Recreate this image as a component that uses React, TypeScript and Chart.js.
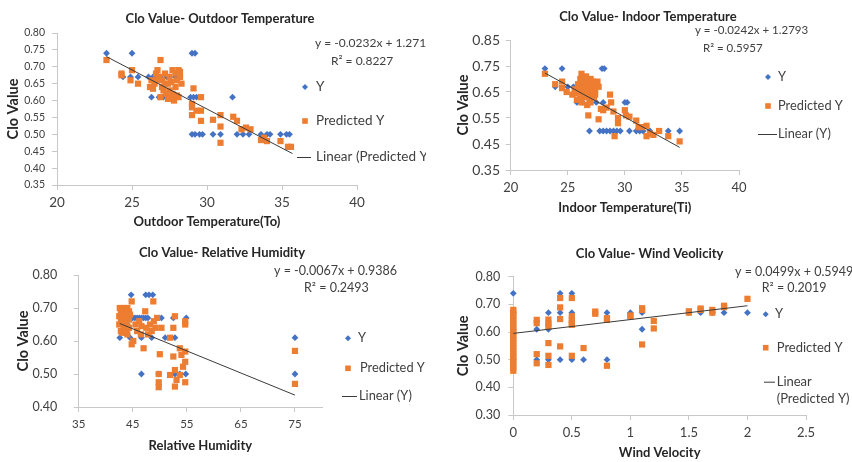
import React, { useEffect, useRef } from "react";
import { Chart, registerables } from "chart.js";
Chart.register(...registerables);

const FONT = "Lato, 'Open Sans', 'Noto Sans', sans-serif";
const BLUE = "#4472C4";
const ORANGE = "#ED7D31";
const AXIS = "#C8C8C8";
const TEXT = "#404040";
const TITLE = "#262626";
const TREND = "#3A3A3A";

type Pt = [number, number];

// ---------------- Panel 1: Outdoor temperature ----------------
const outdoorXTicks = [20, 25, 30, 35, 40];
const outdoorYTicks = [0.35, 0.4, 0.45, 0.5, 0.55, 0.6, 0.65, 0.7, 0.75, 0.8];
const outdoorClo: Pt[] = [
  [23.3, 0.74], [25.0, 0.74], [29.0, 0.74], [29.2, 0.74],
  [24.4, 0.67], [24.9, 0.67], [25.4, 0.67], [26.1, 0.67], [26.4, 0.67], [26.9, 0.67], [27.3, 0.67], [27.5, 0.67], [27.9, 0.67], [28.2, 0.67],
  [26.3, 0.61], [26.8, 0.61], [27.1, 0.61], [27.4, 0.61], [27.6, 0.61], [27.9, 0.61], [28.9, 0.61], [29.1, 0.61], [29.3, 0.61], [31.7, 0.61],
  [29.0, 0.5], [29.2, 0.5], [29.5, 0.5], [29.7, 0.5], [30.4, 0.5], [30.9, 0.5], [32.0, 0.5], [32.4, 0.5], [32.8, 0.5], [33.6, 0.5], [34.0, 0.5], [34.2, 0.5], [34.9, 0.5], [35.3, 0.5], [35.5, 0.5],
];
const outdoorPred: Pt[] = [
  [23.3, 0.72], [24.3, 0.68], [24.3, 0.675], [24.9, 0.66], [25.0, 0.69], [25.4, 0.65],
  [26.2, 0.64], [26.3, 0.66], [26.5, 0.65], [26.6, 0.68], [26.7, 0.69], [26.8, 0.67], [26.9, 0.72], [27.0, 0.64], [27.0, 0.66],
  [27.1, 0.63], [27.2, 0.68], [27.3, 0.62], [27.4, 0.65], [27.5, 0.63], [27.6, 0.61], [27.7, 0.69], [27.7, 0.62], [27.8, 0.6],
  [27.9, 0.68], [28.0, 0.66], [28.0, 0.615], [28.1, 0.69], [28.2, 0.67], [28.3, 0.65], [27.5, 0.67], [26.4, 0.635], [28.1, 0.61],
  [26.6, 0.66], [27.2, 0.65], [27.6, 0.655], [27.9, 0.64], [28.2, 0.685], [26.9, 0.61], [27.4, 0.605],
  [29.0, 0.557], [29.0, 0.58], [29.0, 0.59], [29.1, 0.636], [29.3, 0.57], [29.6, 0.61], [29.6, 0.57], [29.6, 0.54],
  [30.4, 0.543], [30.9, 0.557], [30.9, 0.523], [30.9, 0.475], [31.75, 0.552], [32.0, 0.54],
  [32.3, 0.515], [32.6, 0.52], [32.9, 0.515], [33.6, 0.483], [33.8, 0.49], [34.0, 0.48], [34.9, 0.48], [35.4, 0.463], [35.6, 0.463],
];
const outdoorTrendX = [23.3, 35.7];
const outdoorTrendY = [0.73, 0.443];

// ---------------- Panel 2: Indoor temperature ----------------
const indoorXTicks = [20, 25, 30, 35, 40];
const indoorYTicks = [0.35, 0.45, 0.55, 0.65, 0.75, 0.85];
const indoorClo: Pt[] = [
  [23.0, 0.74], [24.5, 0.74], [28.0, 0.74], [28.2, 0.74],
  [23.9, 0.67], [25.0, 0.67], [25.5, 0.67], [26.2, 0.67], [26.8, 0.67], [27.3, 0.67],
  [25.8, 0.61], [26.3, 0.61], [27.0, 0.61], [27.5, 0.61], [28.1, 0.61], [30.0, 0.61], [30.2, 0.61],
  [26.9, 0.5], [27.8, 0.5], [28.1, 0.5], [28.4, 0.5], [28.7, 0.5], [29.0, 0.5], [29.3, 0.5], [29.6, 0.5],
  [30.4, 0.5], [31.0, 0.5], [31.3, 0.5], [31.6, 0.5], [32.2, 0.5], [33.8, 0.5], [34.8, 0.5],
];
const indoorPred: Pt[] = [
  [23.0, 0.72], [23.9, 0.68], [24.5, 0.69], [24.5, 0.665], [24.9, 0.65],
  [25.4, 0.64], [25.6, 0.66], [25.8, 0.62], [25.9, 0.68], [26.0, 0.65], [26.1, 0.7], [26.2, 0.72], [26.2, 0.61], [26.3, 0.63],
  [26.4, 0.67], [26.5, 0.69], [26.6, 0.64], [26.7, 0.6], [26.7, 0.66], [26.8, 0.68], [26.9, 0.62], [27.0, 0.7], [27.0, 0.65],
  [27.1, 0.67], [27.2, 0.69], [27.3, 0.63], [27.4, 0.66], [27.5, 0.68], [27.0, 0.61], [26.5, 0.655],
  [25.7, 0.645], [26.0, 0.67], [26.3, 0.69], [26.6, 0.71], [26.9, 0.7], [27.2, 0.655], [27.4, 0.64], [26.1, 0.625], [26.8, 0.63], [27.6, 0.69], [27.7, 0.67],
  [26.8, 0.56], [27.7, 0.545], [27.9, 0.585], [28.1, 0.58], [28.4, 0.59], [28.7, 0.64], [28.8, 0.61], [29.0, 0.575],
  [29.1, 0.48], [29.4, 0.55], [29.4, 0.53], [30.0, 0.58], [30.1, 0.56], [30.4, 0.555], [31.0, 0.54], [31.2, 0.515],
  [31.5, 0.515], [31.9, 0.52], [31.9, 0.48], [32.2, 0.49], [32.5, 0.485], [33.0, 0.5], [33.8, 0.48], [34.8, 0.46],
];
const indoorTrendX = [23.0, 34.8];
const indoorTrendY = [0.723, 0.437];

// ---------------- Panel 3: Relative humidity ----------------
const rhXTicks = [35, 45, 55, 65, 75];
const rhYTicks = [0.4, 0.5, 0.6, 0.7, 0.8];
const rhClo: Pt[] = [
  [44.7, 0.74], [47.4, 0.74], [48.0, 0.74], [48.7, 0.74],
  [44.5, 0.67], [45.0, 0.67], [45.4, 0.67], [45.8, 0.67], [46.2, 0.67], [46.6, 0.67], [47.0, 0.67], [47.4, 0.67], [47.8, 0.67],
  [50.3, 0.67], [52.5, 0.67], [54.9, 0.67],
  [42.6, 0.61], [44.5, 0.61], [46.6, 0.61], [48.5, 0.61], [51.0, 0.61], [52.8, 0.61], [75, 0.61],
  [46.6, 0.5], [49.8, 0.5], [52.8, 0.5], [53.7, 0.5], [54.8, 0.5], [75, 0.5],
];
const rhPred: Pt[] = [
  [42.8, 0.69], [42.8, 0.66], [42.8, 0.63], [43.3, 0.7], [43.3, 0.67], [43.3, 0.645], [43.8, 0.68], [43.8, 0.655], [43.8, 0.625],
  [44.3, 0.69], [44.3, 0.665], [44.3, 0.64],
  [42.5, 0.675], [42.5, 0.65], [43.0, 0.685], [43.0, 0.655], [43.0, 0.625], [43.5, 0.69], [43.5, 0.66], [43.5, 0.635],
  [44.0, 0.7], [44.0, 0.67], [44.0, 0.645], [44.0, 0.62], [42.6, 0.7], [44.5, 0.68],
  [44.8, 0.72], [44.8, 0.59], [45.1, 0.6], [45.5, 0.65], [45.8, 0.63], [46.2, 0.66], [46.5, 0.62], [46.6, 0.645], [47.0, 0.578],
  [47.3, 0.69], [47.5, 0.64], [47.8, 0.62], [48.2, 0.65], [48.5, 0.63], [48.8, 0.72], [48.9, 0.66], [49.2, 0.64], [49.5, 0.67],
  [50.0, 0.56], [49.8, 0.5], [49.8, 0.475], [49.8, 0.46], [50.3, 0.64], [51.9, 0.61], [52.5, 0.64], [52.8, 0.675], [54.7, 0.66], [54.7, 0.65],
  [52.5, 0.553], [53.7, 0.578], [54.0, 0.558], [54.7, 0.568], [51.9, 0.497], [52.8, 0.512], [52.8, 0.462], [53.1, 0.482],
  [53.7, 0.497], [54.3, 0.522], [54.7, 0.537], [54.7, 0.475],
  [75, 0.57], [75, 0.47],
];
const rhTrendX = [42.6, 75];
const rhTrendY = [0.653, 0.436];

// ---------------- Panel 4: Wind velocity ----------------
const windXTicks = [0, 0.5, 1, 1.5, 2, 2.5];
const windYTicks = [0.3, 0.4, 0.5, 0.6, 0.7, 0.8];
const windClo: Pt[] = [
  [0, 0.74], [0, 0.67], [0, 0.61], [0, 0.5],
  [0.2, 0.61], [0.2, 0.5], [0.3, 0.67], [0.3, 0.61], [0.3, 0.5], [0.4, 0.74], [0.4, 0.67], [0.4, 0.5],
  [0.5, 0.74], [0.5, 0.67], [0.5, 0.5], [0.6, 0.5], [0.8, 0.67], [0.8, 0.5], [1.0, 0.67], [1.1, 0.67], [1.1, 0.61],
  [1.5, 0.67], [1.6, 0.67], [1.7, 0.67], [1.8, 0.67], [2.0, 0.67],
];
const windPred: Pt[] = [
  [0, 0.46], [0, 0.47], [0, 0.48], [0, 0.49], [0, 0.5], [0, 0.51], [0, 0.52], [0, 0.53], [0, 0.54], [0, 0.55], [0, 0.56], [0, 0.57],
  [0, 0.58], [0, 0.59], [0, 0.6], [0, 0.61], [0, 0.62], [0, 0.63], [0, 0.64], [0, 0.65], [0, 0.66], [0, 0.67], [0, 0.68],
  [0.2, 0.644], [0.2, 0.632], [0.2, 0.52], [0.2, 0.487],
  [0.3, 0.645], [0.3, 0.63], [0.3, 0.62], [0.3, 0.56], [0.3, 0.514], [0.3, 0.481],
  [0.4, 0.723], [0.4, 0.689], [0.4, 0.647], [0.4, 0.548],
  [0.5, 0.723], [0.5, 0.657], [0.5, 0.644], [0.5, 0.632], [0.5, 0.626], [0.5, 0.514],
  [0.6, 0.542], [0.7, 0.674], [0.7, 0.666], [0.8, 0.65], [0.8, 0.644], [0.8, 0.478],
  [1.0, 0.66], [1.0, 0.657], [1.1, 0.686], [1.1, 0.68], [1.1, 0.555], [1.2, 0.64], [1.2, 0.613],
  [1.5, 0.675], [1.5, 0.67], [1.6, 0.685], [1.6, 0.68], [1.7, 0.68], [1.7, 0.67], [1.8, 0.695], [1.8, 0.69], [2.0, 0.72],
];
const windTrendX = [0, 2];
const windTrendY = [0.595, 0.695];

// ---------------- layout / styling ----------------
type LegendItem = { kind: "diamond" | "square" | "line"; mx: number; mx2?: number; y: number; tx: number; lines: string[] };
type PanelCfg = {
  key: string; left: number; top: number; w: number; h: number;
  title: string; titleX: number; titleY: number;
  xTitle: string; yTitle: string; xTicks: number[]; yTicks: number[];
  xMin: number; xMax: number; yMin: number; yMax: number;
  yData: Pt[]; pred: Pt[]; trendX: number[]; trendY: number[]; trendLabel: string;
  pad: { left: number; top: number; right: number; bottom: number };
  yW: number; xH: number; yTitlePad: number; xTitlePad: number;
  yTickPad: number; xTickPad: number; yTickSize: number; xTickSize: number;
  legendSize: number; eqSize: number;
  legend: LegendItem[]; eq: { text: string; x: number; y: number }[];
};

const panels: PanelCfg[] = [
  {
    key: "p1", left: 0, top: 0, w: 426, h: 232,
    title: "Clo Value- Outdoor Temperature", titleX: 220, titleY: 18.5,
    xTitle: "Outdoor Temperature(To)", yTitle: "Clo Value", xTicks: outdoorXTicks, yTicks: outdoorYTicks,
    xMin: 20, xMax: 40, yMin: 0.35, yMax: 0.8,
    yData: outdoorClo, pred: outdoorPred, trendX: outdoorTrendX, trendY: outdoorTrendY, trendLabel: "Linear (Predicted Y)",
    pad: { left: 0, top: 33, right: 69, bottom: 0 }, yW: 57, xH: 47, yTitlePad: 4.3, xTitlePad: 2.2,
    yTickPad: 7, xTickPad: 5, yTickSize: 10.5, xTickSize: 13.5,
    legendSize: 13.5, eqSize: 12,
    legend: [
      { kind: "diamond", mx: 305, y: 87, tx: 316, lines: ["Y"] },
      { kind: "square", mx: 305, y: 121, tx: 316, lines: ["Predicted Y"] },
      { kind: "line", mx: 297, mx2: 311, y: 157, tx: 316, lines: ["Linear (Predicted Y)"] },
    ],
    eq: [{ text: "y = -0.0232x + 1.271", x: 315, y: 43.5 }, { text: "R² = 0.8227", x: 331, y: 61.5 }],
  },
  {
    key: "p2", left: 426, top: 0, w: 426, h: 232,
    title: "Clo Value- Indoor Temperature", titleX: 222, titleY: 16.7,
    xTitle: "Indoor Temperature(Ti)", yTitle: "Clo Value", xTicks: indoorXTicks, yTicks: indoorYTicks,
    xMin: 20, xMax: 40, yMin: 0.35, yMax: 0.85,
    yData: indoorClo, pred: indoorPred, trendX: indoorTrendX, trendY: indoorTrendY, trendLabel: "Linear (Y)",
    pad: { left: 0, top: 40, right: 113, bottom: 0 }, yW: 84.7, xH: 62, yTitlePad: 28.3, xTitlePad: 16.2,
    yTickPad: 5.7, xTickPad: 5, yTickSize: 14, xTickSize: 13,
    legendSize: 12.8, eqSize: 11.5,
    legend: [
      { kind: "diamond", mx: 342, y: 77, tx: 352, lines: ["Y"] },
      { kind: "square", mx: 342, y: 106, tx: 352, lines: ["Predicted Y"] },
      { kind: "line", mx: 332, mx2: 351, y: 134, tx: 352, lines: ["Linear (Y)"] },
    ],
    eq: [{ text: "y = -0.0242x + 1.2793", x: 269, y: 30.7 }, { text: "R² = 0.5957", x: 277, y: 48.3 }],
  },
  {
    key: "p3", left: 0, top: 232, w: 426, h: 230,
    title: "Clo Value- Relative Humidity", titleX: 222, titleY: 21.3,
    xTitle: "Relative Humidity", yTitle: "Clo Value", xTicks: rhXTicks, yTicks: rhYTicks,
    xMin: 35, xMax: 80, yMin: 0.4, yMax: 0.8,
    yData: rhClo, pred: rhPred, trendX: rhTrendX, trendY: rhTrendY, trendLabel: "Linear (Y)",
    pad: { left: 0, top: 43, right: 104, bottom: 0 }, yW: 78.7, xH: 55, yTitlePad: 14.3, xTitlePad: 8.5,
    yTickPad: 16.5, xTickPad: 5, yTickSize: 12.5, xTickSize: 11.5,
    legendSize: 12.8, eqSize: 12.5,
    legend: [
      { kind: "diamond", mx: 348, y: 106.3, tx: 358, lines: ["Y"] },
      { kind: "square", mx: 348, y: 136.3, tx: 360, lines: ["Predicted Y"] },
      { kind: "line", mx: 342, mx2: 357, y: 164, tx: 359, lines: ["Linear (Y)"] },
    ],
    eq: [{ text: "y = -0.0067x + 0.9386", x: 274, y: 39 }, { text: "R² = 0.2493", x: 304, y: 56.3 }],
  },
  {
    key: "p4", left: 426, top: 232, w: 426, h: 230,
    title: "Clo Value- Wind Veolicity", titleX: 223.6, titleY: 22.3,
    xTitle: "Wind Velocity", yTitle: "Clo Value", xTicks: windXTicks, yTicks: windYTicks,
    xMin: 0, xMax: 2.5, yMin: 0.3, yMax: 0.8,
    yData: windClo, pred: windPred, trendX: windTrendX, trendY: windTrendY, trendLabel: "Linear (Predicted Y)",
    pad: { left: 0, top: 44.7, right: 46, bottom: 0 }, yW: 87.3, xH: 47, yTitlePad: 28.6, xTitlePad: 0.9,
    yTickPad: 8, xTickPad: 5.5, yTickSize: 12.5, xTickSize: 13,
    legendSize: 13, eqSize: 12.5,
    legend: [
      { kind: "diamond", mx: 339.7, y: 82.3, tx: 349, lines: ["Y"] },
      { kind: "square", mx: 339.7, y: 115.7, tx: 350.7, lines: ["Predicted Y"] },
      { kind: "line", mx: 338, mx2: 349, y: 149.7, tx: 350.7, lines: ["Linear", "(Predicted Y)"] },
    ],
    eq: [{ text: "y = 0.0499x + 0.5949", x: 309, y: 40.3 }, { text: "R² = 0.2019", x: 335.7, y: 56.3 }],
  },
];

function makeDecor(p: PanelCfg) {
  return {
    id: "decor_" + p.key,
    afterDraw(chart: any) {
      const ctx: CanvasRenderingContext2D = chart.ctx;
      ctx.save();
      ctx.textBaseline = "middle";
      ctx.fillStyle = TITLE;
      ctx.textAlign = "center";
      ctx.font = `bold 13px ${FONT}`;
      ctx.fillText(p.title, p.titleX, p.titleY);

      ctx.textAlign = "left";
      ctx.font = `${p.legendSize}px ${FONT}`;
      for (const it of p.legend) {
        if (it.kind === "diamond") {
          ctx.fillStyle = BLUE;
          ctx.beginPath();
          ctx.moveTo(it.mx - 3, it.y);
          ctx.lineTo(it.mx, it.y - 3);
          ctx.lineTo(it.mx + 3, it.y);
          ctx.lineTo(it.mx, it.y + 3);
          ctx.closePath();
          ctx.fill();
        } else if (it.kind === "square") {
          ctx.fillStyle = ORANGE;
          ctx.fillRect(it.mx - 2.8, it.y - 2.8, 5.6, 5.6);
        } else {
          ctx.strokeStyle = TREND;
          ctx.lineWidth = 1;
          ctx.beginPath();
          ctx.moveTo(it.mx, it.y + 0.5);
          ctx.lineTo(it.mx2 as number, it.y + 0.5);
          ctx.stroke();
        }
        ctx.fillStyle = TEXT;
        it.lines.forEach((t, i) => ctx.fillText(t, it.tx, it.y + i * p.legendSize * 1.33));
      }

      ctx.font = `${p.eqSize}px ${FONT}`;
      ctx.fillStyle = TEXT;
      for (const e of p.eq) ctx.fillText(e.text, e.x, e.y);
      ctx.restore();
    },
  };
}

function buildConfig(p: PanelCfg): any {
  const toXY = (a: Pt[]) => a.map(([x, y]) => ({ x, y }));
  const fmtX = (v: number) => String(Math.round(v * 10) / 10);
  const fmtY = (v: number) => v.toFixed(2);
  const gridOpts = { display: true, drawOnChartArea: false, drawTicks: true, tickLength: 5, color: AXIS, lineWidth: 1 };
  return {
    type: "scatter",
    data: {
      datasets: [
        {
          label: p.trendLabel,
          data: p.trendX.map((x, i) => ({ x, y: p.trendY[i] })),
          showLine: true, borderColor: TREND, borderWidth: 1, pointRadius: 0, fill: false, order: 0, clip: false,
        },
        {
          label: "Predicted Y", data: toXY(p.pred), pointStyle: "rect", pointRadius: 4.4,
          backgroundColor: ORANGE, borderColor: ORANGE, borderWidth: 0, order: 1, clip: false,
        },
        {
          label: "Y", data: toXY(p.yData), pointStyle: "rectRot", pointRadius: 3.4,
          backgroundColor: BLUE, borderColor: BLUE, borderWidth: 0, order: 2, clip: false,
        },
      ],
    },
    options: {
      responsive: false,
      animation: false,
      devicePixelRatio: 1,
      events: [],
      layout: { padding: p.pad },
      plugins: { legend: { display: false }, tooltip: { enabled: false }, title: { display: false } },
      scales: {
        x: {
          type: "linear", min: p.xMin, max: p.xMax,
          afterBuildTicks: (s: any) => { s.ticks = p.xTicks.map((v) => ({ value: v })); },
          afterFit: (s: any) => { s.height = p.xH; },
          ticks: {
            autoSkip: false, maxRotation: 0, padding: p.xTickPad, color: TEXT,
            font: { family: FONT, size: p.xTickSize }, callback: (v: any) => fmtX(Number(v)),
          },
          grid: gridOpts,
          border: { display: true, color: AXIS, width: 1 },
          title: {
            display: true, text: p.xTitle, color: TITLE,
            font: { family: FONT, size: 13, weight: "bold" }, padding: { top: 0, bottom: p.xTitlePad },
          },
        },
        y: {
          type: "linear", min: p.yMin, max: p.yMax,
          afterBuildTicks: (s: any) => { s.ticks = p.yTicks.map((v) => ({ value: v })); },
          afterFit: (s: any) => { s.width = p.yW; },
          ticks: {
            autoSkip: false, padding: p.yTickPad, color: TEXT,
            font: { family: FONT, size: p.yTickSize }, callback: (v: any) => fmtY(Number(v)),
          },
          grid: gridOpts,
          border: { display: true, color: AXIS, width: 1 },
          title: {
            display: true, text: p.yTitle, color: TITLE,
            font: { family: FONT, size: 14.5, weight: "bold" }, padding: { top: p.yTitlePad, bottom: 0 },
          },
        },
      },
    },
    plugins: [makeDecor(p)],
  };
}

function Panel({ p }: { p: PanelCfg }) {
  const ref = useRef<HTMLCanvasElement>(null);
  useEffect(() => {
    const chart = new Chart(ref.current as HTMLCanvasElement, buildConfig(p));
    return () => chart.destroy();
  }, [p]);
  return (
    <canvas
      ref={ref}
      width={p.w}
      height={p.h}
      style={{ position: "absolute", left: p.left, top: p.top, width: p.w, height: p.h, display: "block" }}
    />
  );
}

export default function App() {
  return (
    <div style={{ position: "fixed", left: 0, top: 0, width: 852, height: 462, background: "#ffffff", overflow: "hidden" }}>
      {panels.map((p) => (
        <Panel key={p.key} p={p} />
      ))}
    </div>
  );
}
